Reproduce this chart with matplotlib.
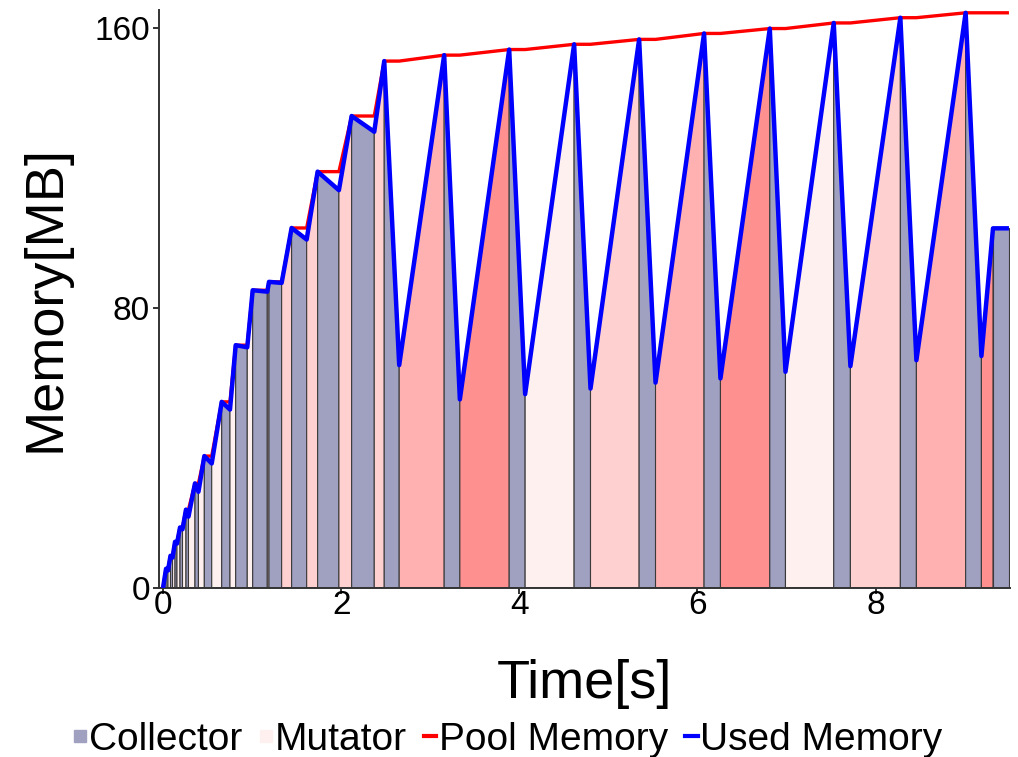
import numpy as np
import matplotlib
matplotlib.use("Agg")
import matplotlib.pyplot as plt
from matplotlib.lines import Line2D

plt.rcParams['font.family'] = ['Liberation Sans', 'DejaVu Sans']

# phase boundaries (s) and used heap at each boundary (MB)
times = [0.000, 0.034, 0.056, 0.084, 0.107, 0.135, 0.157, 0.191, 0.219, 0.258,
         0.286, 0.359, 0.398, 0.464, 0.547, 0.659, 0.752, 0.816, 0.946, 1.007,
         1.171, 1.190, 1.332, 1.444, 1.613, 1.736, 1.975, 2.118, 2.372, 2.484,
         2.652, 3.157, 3.333, 3.887, 4.066, 4.616, 4.800, 5.346, 5.530, 6.075,
         6.259, 6.813, 6.989, 7.531, 7.718, 8.279, 8.459, 9.012, 9.189, 9.319,
         9.498]
used = [0.0, 5.5, 5.0, 9.2, 8.7, 13.2, 12.7, 17.3, 16.8, 22.4,
        20.4, 29.9, 27.5, 37.7, 35.6, 53.2, 51.0, 69.4, 68.8, 85.1,
        84.7, 87.5, 87.2, 102.9, 99.6, 119.0, 113.7, 134.9, 130.4, 150.6,
        63.7, 152.3, 53.9, 153.9, 55.4, 155.4, 57.0, 156.8, 58.7, 158.5,
        59.9, 159.9, 61.8, 161.5, 63.4, 163.0, 65.1, 164.4, 66.3, 102.8,
        102.8]
pool = [0.0, 5.5, 5.5, 9.2, 9.2, 13.2, 13.2, 17.3, 17.3, 22.4,
        22.4, 29.9, 29.9, 37.7, 37.7, 53.2, 53.2, 69.4, 69.4, 85.1,
        85.1, 87.5, 87.5, 102.9, 102.9, 119.0, 119.0, 134.9, 134.9, 150.6,
        150.6, 152.3, 152.3, 153.9, 153.9, 155.4, 155.4, 156.8, 156.8, 158.5,
        158.5, 159.9, 159.9, 161.5, 161.5, 163.0, 163.0, 164.4, 164.4, 164.4,
        164.4]
# intervals alternate mutator / collector, starting with mutator
# shade index of each mutator interval
mutator_shade = [0] * 10 + [1] * 5 + [2, 3, 0, 1, 2, 3, 0, 1, 2, 3]

COLLECTOR = "#a0a0c0"
MUTATOR_SHADES = ["#fff0f0", "#ffd0d0", "#ffb0b0", "#ff9090"]

fig = plt.figure(figsize=(10.18, 7.57), dpi=100)
ax = fig.add_axes([159 / 1018, 1 - 588 / 757, (1010 - 159) / 1018, (588 - 10) / 757])

# filled phases under the used-memory curve
k = 0
for i in range(len(times) - 1):
    if i % 2 == 0:
        col = MUTATOR_SHADES[mutator_shade[k]]
        k += 1
    else:
        col = COLLECTOR
    xs = [times[i], times[i], times[i + 1], times[i + 1]]
    ys = [0, used[i], used[i + 1], 0]
    ax.fill(xs, ys, facecolor=col, edgecolor="#3a3a3a", linewidth=0.8, zorder=1)

ax.plot(times, pool, color="#ff0000", lw=2.4, zorder=3, solid_capstyle="butt")
ax.plot(times, used, color="#0000ff", lw=3.2, zorder=4, solid_capstyle="butt")

ax.set_xlim(-0.045, 9.51)
ax.set_ylim(0, 165.2)
ax.set_xticks([0, 2, 4, 6, 8])
ax.set_yticks([0, 80, 160])

for s in ["top", "right"]:
    ax.spines[s].set_visible(False)
for s in ["left", "bottom"]:
    ax.spines[s].set_linewidth(1.4)
    ax.spines[s].set_color("#333333")
ax.tick_params(axis="both", length=4.5, width=1.4, color="#333333",
               labelsize=24, pad=2)
ax.tick_params(axis="x", pad=-3)

ax.set_xlabel("Time[s]", fontsize=39, labelpad=27)
ax.set_ylabel("Memory[MB]", fontsize=39, labelpad=17)

handles = [
    Line2D([], [], marker="s", ls="none", markersize=8.5, color=COLLECTOR),
    Line2D([], [], marker="s", ls="none", markersize=8.5, color=MUTATOR_SHADES[0]),
    Line2D([], [], color="#ff0000", lw=3),
    Line2D([], [], color="#0000ff", lw=3),
]
labels = ["Collector", "Mutator", "Pool Memory", "Used Memory"]
fig.legend(handles, labels, loc="center", bbox_to_anchor=(0.499, 0.023),
           ncol=4, frameon=False, fontsize=28, handlelength=0.33,
           handletextpad=0.06, columnspacing=0.44, borderpad=0, borderaxespad=0)

fig.savefig("out.png", dpi=100)
